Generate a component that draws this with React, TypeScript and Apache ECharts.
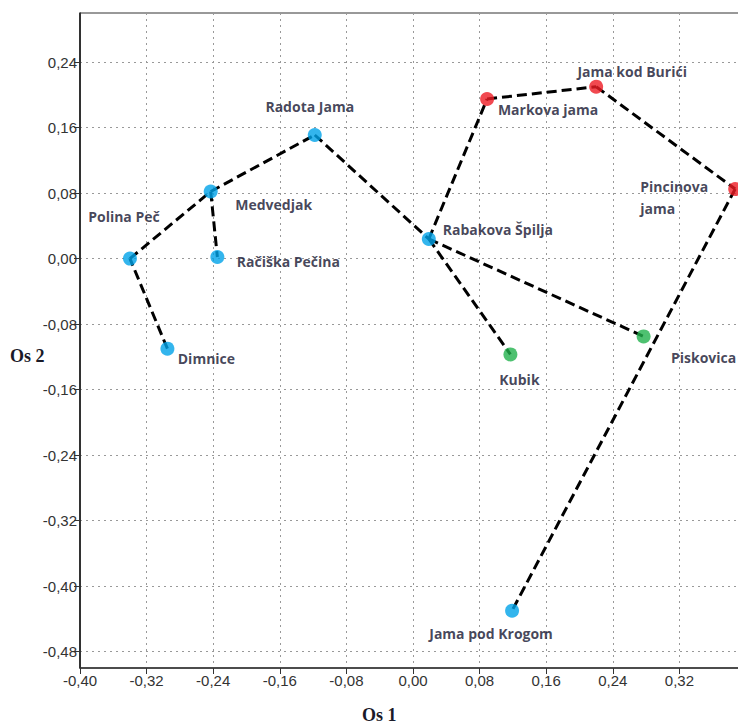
import React, { useEffect, useRef } from "react";
import * as echarts from "echarts";

const names = [
  "Polina Peč",
  "Medvedjak",
  "Račiška Pečina",
  "Dimnice",
  "Radota Jama",
  "Rabakova Špilja",
  "Markova jama",
  "Jama kod Burići",
  "Pincinova jama",
  "Kubik",
  "Piskovica",
  "Jama pod Krogom",
];
const os1 = [-0.34, -0.243, -0.235, -0.295, -0.118, 0.019, 0.089, 0.22, 0.387, 0.117, 0.277, 0.119];
const os2 = [0.0, 0.082, 0.002, -0.11, 0.151, 0.024, 0.195, 0.21, 0.085, -0.117, -0.095, -0.43];
const groups = ["blue", "blue", "blue", "blue", "blue", "blue", "red", "red", "red", "green", "green", "blue"];

const edges: [string, string][] = [
  ["Dimnice", "Polina Peč"],
  ["Polina Peč", "Medvedjak"],
  ["Medvedjak", "Račiška Pečina"],
  ["Medvedjak", "Radota Jama"],
  ["Radota Jama", "Rabakova Špilja"],
  ["Rabakova Špilja", "Markova jama"],
  ["Markova jama", "Jama kod Burići"],
  ["Jama kod Burići", "Pincinova jama"],
  ["Pincinova jama", "Jama pod Krogom"],
  ["Rabakova Špilja", "Kubik"],
  ["Rabakova Špilja", "Piskovica"],
];

const xTickValues = [-0.4, -0.32, -0.24, -0.16, -0.08, 0, 0.08, 0.16, 0.24, 0.32];
const yTickValues = [-0.48, -0.4, -0.32, -0.24, -0.16, -0.08, 0, 0.08, 0.16, 0.24];

// styling (not data)
const colorMap: Record<string, string> = { blue: "#00A2E8", red: "#ED1C24", green: "#22B14C" };
const labelStyle: Record<string, any> = {
  "Polina Peč": { offset: [-6, -42] },
  Medvedjak: { offset: [63, 13] },
  "Račiška Pečina": { offset: [71, 5] },
  Dimnice: { offset: [39, 10] },
  "Radota Jama": { offset: [-5, -28] },
  "Rabakova Špilja": { offset: [69, -9] },
  "Markova jama": { offset: [61, 11] },
  "Jama kod Burići": { offset: [36, -15] },
  "Pincinova jama": { offset: [-95, 8], align: "left", text: "Pincinova\njama" },
  Kubik: { offset: [9, 25] },
  Piskovica: { offset: [60, 21] },
  "Jama pod Krogom": { offset: [-21, 23] },
};

const fmt = (v: number) => v.toFixed(2).replace(".", ",");

export default function App() {
  const ref = useRef<HTMLDivElement>(null);
  useEffect(() => {
    if (!ref.current) return;
    const chart = echarts.init(ref.current, null, { renderer: "svg" });
    const idx = (n: string) => names.indexOf(n);

    const lineSeries = edges.map(([a, b]) => ({
      type: "line",
      data: [
        [os1[idx(a)], os2[idx(a)]],
        [os1[idx(b)], os2[idx(b)]],
      ],
      symbol: "none",
      silent: true,
      z: 2,
      lineStyle: { color: "#000", width: 3, type: [10, 5] },
    }));

    const scatterData = names.map((n, i) => {
      const ls = labelStyle[n] || {};
      return {
        value: [os1[i], os2[i]],
        name: n,
        itemStyle: { color: colorMap[groups[i]] },
        label: {
          show: true,
          position: "inside",
          offset: ls.offset,
          align: ls.align || "center",
          verticalAlign: "middle",
          formatter: ls.text || n,
          lineHeight: 22,
        },
      };
    });

    const axisLabelBase = {
      color: "#333",
      fontFamily: "Liberation Sans, Arial, sans-serif",
      fontSize: 15,
      formatter: (v: number) => fmt(v),
    };

    chart.setOption({
      animation: false,
      grid: {
        left: 80,
        top: 13,
        width: 666,
        height: 655,
        show: true,
        borderColor: "#333",
        borderWidth: 1,
        containLabel: false,
        outerBoundsMode: "none",
      },
      xAxis: {
        type: "value",
        min: -0.4,
        max: 0.4,
        interval: 0.1,
        axisLine: { show: true, onZero: false, lineStyle: { color: "#333", width: 1.5 } },
        axisTick: { show: true, length: 6, customValues: xTickValues, lineStyle: { color: "#333" } },
        axisLabel: { ...axisLabelBase, margin: 5, customValues: xTickValues },
        splitLine: { show: true, lineStyle: { color: "#999", type: [2, 4], width: 1 } },
      },
      yAxis: {
        type: "value",
        min: -0.5,
        max: 0.3,
        interval: 0.1,
        axisLine: { show: true, onZero: false, lineStyle: { color: "#111", width: 1.5 } },
        axisTick: { show: true, length: 6, customValues: yTickValues, lineStyle: { color: "#333" } },
        axisLabel: { ...axisLabelBase, margin: 3, customValues: yTickValues },
        splitLine: { show: true, lineStyle: { color: "#999", type: [2, 4], width: 1 } },
      },
      graphic: [
        {
          type: "text",
          left: 10,
          top: 347,
          style: {
            text: "Os 2",
            font: "bold 18px 'Liberation Serif', serif",
            fill: "#1a1a28",
          },
        },
        {
          type: "text",
          left: 362,
          top: 706,
          style: {
            text: "Os 1",
            font: "bold 18px 'Liberation Serif', serif",
            fill: "#1a1a28",
          },
        },
      ],
      series: [
        ...lineSeries,
        {
          type: "scatter",
          symbolSize: 14,
          z: 5,
          data: scatterData,
          label: {
            color: "#151530",
            fontFamily: "'Open Sans', Lato, sans-serif",
            fontWeight: "bold",
            fontSize: 14,
          },
        },
      ],
    } as any);
    return () => chart.dispose();
  }, []);
  return (
    <div
      ref={ref}
      style={{ position: "fixed", left: 0, top: 0, width: 738, height: 724, background: "#fff" }}
    />
  );
}
